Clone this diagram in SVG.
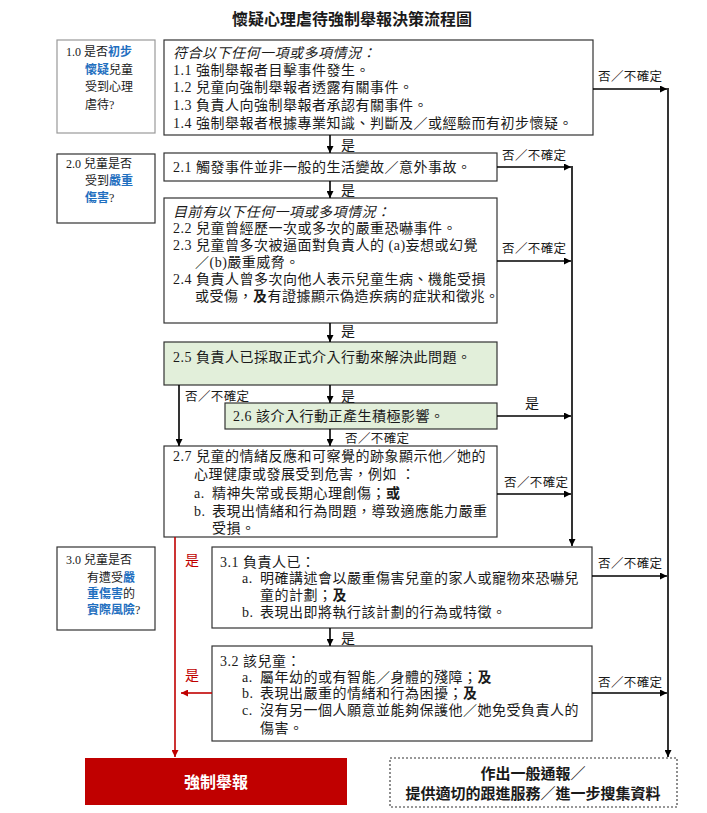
<svg xmlns="http://www.w3.org/2000/svg" width="707" height="813" viewBox="0 0 707 813">
<style>
text{font-family:"Liberation Serif","Noto Sans CJK TC",serif;fill:#1a1a1a}
.t{font-size:14px;letter-spacing:0.5px}
.s{font-size:12px}
.lb{font-size:12.5px;letter-spacing:0.4px}
.red{fill:#C00000}
.b{font-weight:bold}
.blue{fill:#1F6FBF;font-weight:bold}
.box{fill:#fff;stroke:#333;stroke-width:1.2}
.gbox{fill:#E2EFDA;stroke:#333;stroke-width:1.2}
.ln{stroke:#000;stroke-width:1.6;fill:none}
.rln{stroke:#C00000;stroke-width:1.6;fill:none}
</style>
<defs>
<marker id="ah" viewBox="0 0 10 10" refX="10" refY="5" markerWidth="7" markerHeight="7" markerUnits="userSpaceOnUse" orient="auto"><path d="M0,0 L10,5 L0,10 z" fill="#000"/></marker>
<marker id="rah" viewBox="0 0 10 10" refX="10" refY="5" markerWidth="7" markerHeight="7" markerUnits="userSpaceOnUse" orient="auto"><path d="M0,0 L10,5 L0,10 z" fill="#C00000"/></marker>
</defs>
<rect width="707" height="813" fill="#fff"/>
<text x="352" y="25" text-anchor="middle" class="b" style="font-size:16px">懷疑心理虐待強制舉報決策流程圖</text>

<g id="q1">
<rect x="57" y="40" width="98" height="93" fill="#fff" stroke="#999" stroke-width="1.2"/>
<text class="s" x="66" y="56">1.0 是否<tspan class="blue">初步</tspan></text>
<text class="s" x="85" y="74"><tspan class="blue">懷疑</tspan>兒童</text>
<text class="s" x="85" y="91">受到心理</text>
<text class="s" x="85" y="109">虐待?</text>
</g>

<g id="b1">
<rect class="box" x="164" y="40" width="429" height="95"/>
<text class="t" x="173" y="58" font-style="italic">符合以下任何一項或多項情況：</text>
<text class="t" x="173" y="75">1.1 強制舉報者目擊事件發生。</text>
<text class="t" x="173" y="92">1.2 兒童向強制舉報者透露有關事件。</text>
<text class="t" x="173" y="110">1.3 負責人向強制舉報者承認有關事件。</text>
<text class="t" x="173" y="128">1.4 強制舉報者根據專業知識、判斷及／或經驗而有初步懷疑。</text>
</g>

<g id="q2">
<rect x="57" y="154" width="98" height="69" class="box"/>
<text class="s" x="66" y="168">2.0 兒童是否</text>
<text class="s" x="85" y="185">受到<tspan class="blue">嚴重</tspan></text>
<text class="s" x="85" y="202"><tspan class="blue">傷害</tspan>?</text>
</g>

<g id="b21">
<rect class="box" x="164" y="153" width="333" height="28"/>
<text class="t" x="173" y="172">2.1 觸發事件並非一般的生活變故／意外事故。</text>
</g>

<g id="b22">
<rect class="box" x="164" y="198" width="333" height="125"/>
<text class="t" x="173" y="217" font-style="italic">目前有以下任何一項或多項情況：</text>
<text class="t" x="173" y="233">2.2 兒童曾經歷一次或多次的嚴重恐嚇事件。</text>
<text class="t" x="173" y="250">2.3 兒童曾多次被逼面對負責人的 (a)妄想或幻覺</text>
<text class="t" x="195" y="267">／(b)嚴重威脅。</text>
<text class="t" x="173" y="284">2.4 負責人曾多次向他人表示兒童生病、機能受損</text>
<text class="t" x="195" y="301">或受傷，<tspan class="b">及</tspan>有證據顯示偽造疾病的症狀和徵兆。</text>
</g>

<g id="b25">
<rect class="gbox" x="164" y="342" width="333" height="43"/>
<text class="t" x="173" y="362">2.5 負責人已採取正式介入行動來解決此問題。</text>
</g>

<g id="b26">
<rect class="gbox" x="225" y="403" width="272" height="26"/>
<text class="t" x="233" y="421">2.6 該介入行動正產生積極影響。</text>
</g>

<g id="b27">
<rect class="box" x="164" y="446" width="333" height="91"/>
<text class="t" x="173" y="461">2.7 兒童的情緒反應和可察覺的跡象顯示他／她的</text>
<text class="t" x="194" y="479">心理健康或發展受到危害，例如 ：</text>
<text class="t" x="194" y="498">a.</text>
<text class="t" x="212" y="498">精神失常或長期心理創傷；<tspan class="b">或</tspan></text>
<text class="t" x="194" y="516">b.</text>
<text class="t" x="212" y="516">表現出情緒和行為問題，導致適應能力嚴重</text>
<text class="t" x="212" y="533">受損。</text>
</g>

<g id="q3">
<rect x="57" y="547" width="98" height="83" class="box"/>
<text class="s" x="66" y="564">3.0 兒童是否</text>
<text class="s" x="87" y="582">有遭受<tspan class="blue">嚴</tspan></text>
<text class="s" x="87" y="598"><tspan class="blue">重傷害</tspan>的</text>
<text class="s" x="87" y="614"><tspan class="blue">實際風險</tspan>?</text>
</g>

<g id="b31">
<rect class="box" x="212" y="547" width="380" height="81"/>
<text class="t" x="220" y="567">3.1 負責人已：</text>
<text class="t" x="242" y="583">a.</text>
<text class="t" x="260" y="583">明確講述會以嚴重傷害兒童的家人或寵物來恐嚇兒</text>
<text class="t" x="260" y="600">童的計劃；<tspan class="b">及</tspan></text>
<text class="t" x="242" y="617">b.</text>
<text class="t" x="260" y="617">表現出即將執行該計劃的行為或特徵。</text>
</g>

<g id="b32">
<rect class="box" x="212" y="646" width="380" height="95"/>
<text class="t" x="220" y="666">3.2 該兒童：</text>
<text class="t" x="242" y="682">a.</text>
<text class="t" x="260" y="682">屬年幼的或有智能／身體的殘障；<tspan class="b">及</tspan></text>
<text class="t" x="242" y="698">b.</text>
<text class="t" x="260" y="698">表現出嚴重的情緒和行為困擾；<tspan class="b">及</tspan></text>
<text class="t" x="242" y="715">c.</text>
<text class="t" x="260" y="715">沒有另一個人願意並能夠保護他／她免受負責人的</text>
<text class="t" x="260" y="733">傷害。</text>
</g>

<g id="mandatory">
<rect x="85" y="758" width="262" height="47" fill="#C00000"/>
<text x="216" y="788" text-anchor="middle" class="b" style="font-size:16px;fill:#fff">強制舉報</text>
</g>

<g id="general">
<rect x="390" y="758" width="287" height="49" fill="#fff" stroke="#333" stroke-width="1.1" stroke-dasharray="2,2"/>
<text x="533" y="779" text-anchor="middle" class="b" style="font-size:15px">作出一般通報／</text>
<text x="533" y="799" text-anchor="middle" class="b" style="font-size:15px">提供適切的跟進服務／進一步搜集資料</text>
</g>

<g id="connectors">
<path class="ln" d="M593,89 H667" marker-end="url(#ah)"/>
<path class="ln" d="M668,88 V757" marker-end="url(#ah)"/>
<path class="ln" d="M330,135 V153" marker-end="url(#ah)"/>
<path class="ln" d="M497,167 H571" marker-end="url(#ah)"/>
<path class="ln" d="M572,166 V546" marker-end="url(#ah)"/>
<path class="ln" d="M330,181 V198" marker-end="url(#ah)"/>
<path class="ln" d="M497,261 H571" marker-end="url(#ah)"/>
<path class="ln" d="M330,323 V342" marker-end="url(#ah)"/>
<path class="ln" d="M330,385 V403" marker-end="url(#ah)"/>
<path class="ln" d="M179,385 V446" marker-end="url(#ah)"/>
<path class="ln" d="M497,416 H571" marker-end="url(#ah)"/>
<path class="ln" d="M330,429 V446" marker-end="url(#ah)"/>
<path class="ln" d="M497,494 H571" marker-end="url(#ah)"/>
<path class="ln" d="M592,576 H667" marker-end="url(#ah)"/>
<path class="ln" d="M330,628 V646" marker-end="url(#ah)"/>
<path class="ln" d="M592,693 H667" marker-end="url(#ah)"/>
<path class="rln" d="M175,537 V757" marker-end="url(#rah)"/>
<path class="rln" d="M212,693 H181" marker-end="url(#rah)"/>
<text class="lb" x="598" y="81">否／不確定</text>
<text class="t" x="341" y="150">是</text>
<text class="lb" x="502" y="160">否／不確定</text>
<text class="t" x="341" y="195">是</text>
<text class="lb" x="502" y="253">否／不確定</text>
<text class="t" x="341" y="336">是</text>
<text class="lb" x="185" y="401">否／不確定</text>
<text class="t" x="341" y="401">是</text>
<text class="t" x="525" y="408">是</text>
<text class="lb" x="345" y="443">否／不確定</text>
<text class="lb" x="504" y="487">否／不確定</text>
<text class="t red" x="185" y="565">是</text>
<text class="t" x="341" y="643">是</text>
<text class="t red" x="185" y="680">是</text>
<text class="lb" x="598" y="568">否／不確定</text>
<text class="lb" x="598" y="687">否／不確定</text>
</g>
</svg>
